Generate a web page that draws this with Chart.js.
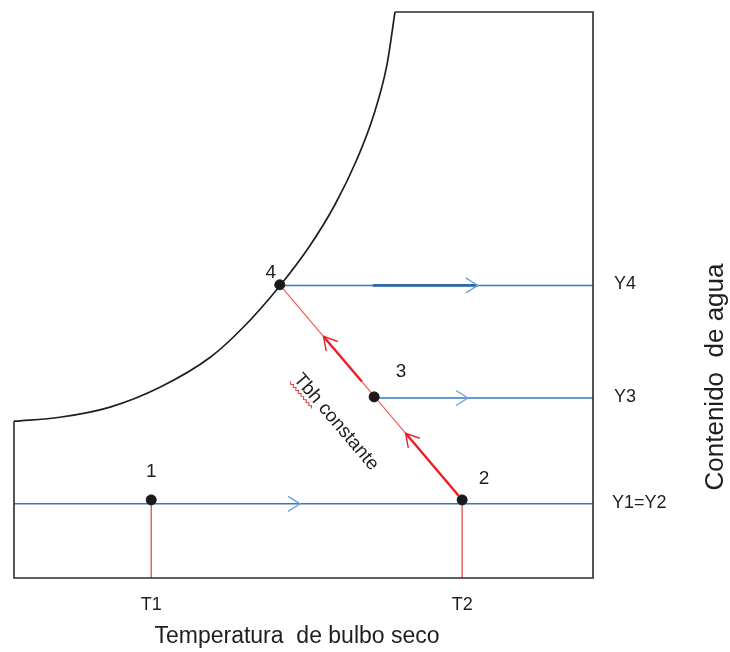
<!DOCTYPE html>
<html>
<head>
<meta charset="utf-8">
<script src="https://cdn.jsdelivr.net/npm/chart.js@4/dist/chart.umd.min.js"></script>
<style>
  html, body { margin: 0; padding: 0; background: #ffffff; }
  #wrap { width: 730px; height: 652px; position: relative; }
</style>
</head>
<body>
<div id="wrap"><canvas id="c"></canvas></div>
<script>
// Saturation curve (dry-bulb temperature vs. water content), relative units 0-100
const satTemp = [0, 7.9, 16.6, 25.2, 33.9, 39.6, 45.9, 51.1, 55.4, 59.2, 62.0, 64.4, 65.8];
const satHum  = [27.7, 28.4, 30.2, 33.7, 39.0, 44.3, 51.6, 58.7, 65.9, 73.9, 81.4, 90.6, 100];

// Air states 1..4
const stateLabels = ['1', '2', '3', '4'];
const stateTemp   = [23.7, 77.4, 62.2, 45.9];
const stateHum    = [13.8, 13.8, 32.0, 51.8];

// Constant water-content lines
const humLabels = ['Y1=Y2', 'Y3', 'Y4'];
const humLevels = [13.1, 31.8, 51.7];

// Temperature marks on the bottom axis
const tempLabels = ['T1', 'T2'];
const tempMarks  = [23.7, 77.4];

const FONT = '"Liberation Sans", Arial, sans-serif';
const BLUE = '#2f78c2';
const BLUE_LIGHT = '#6fa3dc';
const RED_THIN = '#ff5050';
const RED_V = '#d64545';
const RED_BOLD = '#ee1c24';

const pts = (xs, ys) => xs.map((x, i) => ({ x: x, y: ys[i] }));

const lineDs = (data, color, width, extra) => Object.assign({
  type: 'line', data: data, borderColor: color, borderWidth: width,
  pointRadius: 0, fill: false, tension: 0, clip: false
}, extra || {});

const datasets = [
  // chart frame (right, bottom and the cut left/top edges)
  lineDs([{ x: satTemp[satTemp.length - 1], y: 100 }, { x: 100, y: 100 }, { x: 100, y: 0 },
          { x: 0, y: 0 }, { x: 0, y: satHum[0] }], '#2b2b2b', 1.6),
  // saturation curve
  lineDs(pts(satTemp, satHum), '#1f1f1f', 1.7, { cubicInterpolationMode: 'monotone' }),
  // constant water-content lines
  lineDs([{ x: 0, y: humLevels[0] }, { x: 100, y: humLevels[0] }], BLUE, 1.5),
  lineDs([{ x: stateTemp[2], y: humLevels[1] }, { x: 100, y: humLevels[1] }], BLUE, 1.5),
  lineDs([{ x: stateTemp[3], y: humLevels[2] }, { x: 100, y: humLevels[2] }], BLUE, 1.5),
  // temperature drop lines
  lineDs([{ x: tempMarks[0], y: 0 }, { x: stateTemp[0], y: stateHum[0] }], RED_V, 1.2),
  lineDs([{ x: tempMarks[1], y: 0 }, { x: stateTemp[1], y: stateHum[1] }], RED_V, 1.2),
  // constant wet-bulb line 2 -> 4
  lineDs([{ x: stateTemp[1], y: stateHum[1] }, { x: stateTemp[3], y: stateHum[3] }], RED_THIN, 1.1),
  // states
  {
    type: 'scatter', data: pts(stateTemp, stateHum), showLine: false,
    pointRadius: 5, pointHoverRadius: 5, pointBackgroundColor: '#1a1a1a',
    pointBorderColor: '#1a1a1a', clip: false, order: -1
  }
];

function chevron(ctx, tip, dir, color, L, W) {
  const n = { x: -dir.y, y: dir.x };
  ctx.save();
  ctx.strokeStyle = color;
  ctx.lineWidth = 1.4;
  ctx.lineJoin = 'miter';
  ctx.beginPath();
  ctx.moveTo(tip.x - L * dir.x + W * n.x, tip.y - L * dir.y + W * n.y);
  ctx.lineTo(tip.x, tip.y);
  ctx.lineTo(tip.x - L * dir.x - W * n.x, tip.y - L * dir.y - W * n.y);
  ctx.stroke();
  ctx.restore();
}

const processMarks = {
  id: 'processMarks',
  afterDatasetsDraw(chart) {
    const ctx = chart.ctx;
    const xs = chart.scales.x, ys = chart.scales.y;
    const P = (x, y) => ({ x: xs.getPixelForValue(x), y: ys.getPixelForValue(y) });

    // emphasised stretch on Y4 line
    const a = P(62.0, humLevels[2]), b = P(80.1, humLevels[2]);
    ctx.save();
    ctx.strokeStyle = '#2d68ad';
    ctx.lineWidth = 2.6;
    ctx.beginPath(); ctx.moveTo(a.x, a.y); ctx.lineTo(b.x, b.y); ctx.stroke();
    ctx.restore();

    // arrows along water-content lines
    const blueArrows = [[49.4, humLevels[0]], [78.4, humLevels[1]], [80.1, humLevels[2]]];
    blueArrows.forEach(([x, y]) => chevron(ctx, P(x, y), { x: 1, y: 0 }, BLUE_LIGHT, 12, 7.5));

    // wet-bulb process arrows (2 -> 4)
    const s2 = P(stateTemp[1], stateHum[1]), s4 = P(stateTemp[3], stateHum[3]);
    const dx = s4.x - s2.x, dy = s4.y - s2.y, len = Math.hypot(dx, dy);
    const u = { x: dx / len, y: dy / len };
    const at = f => ({ x: s2.x + dx * f, y: s2.y + dy * f });
    [[0.02, 0.31], [0.55, 0.76]].forEach(([f0, f1]) => {
      const p0 = at(f0), p1 = at(f1);
      ctx.save();
      ctx.strokeStyle = RED_BOLD;
      ctx.lineWidth = 2.4;
      ctx.beginPath(); ctx.moveTo(p0.x, p0.y); ctx.lineTo(p1.x, p1.y); ctx.stroke();
      ctx.restore();
      chevron(ctx, p1, u, RED_BOLD, 13, 7.5);
    });

    // texts
    ctx.save();
    ctx.fillStyle = '#1e1e1e';
    ctx.textAlign = 'center';
    ctx.textBaseline = 'middle';
    ctx.font = '19px ' + FONT;
    const stateOffsets = [[0, -28], [22, -21], [27, -25], [-9, -12]];
    stateLabels.forEach((t, i) => {
      const p = P(stateTemp[i], stateHum[i]);
      ctx.fillText(t, p.x + stateOffsets[i][0], p.y + stateOffsets[i][1]);
    });
    ctx.font = '18px ' + FONT;
    tempLabels.forEach((t, i) => {
      const p = P(tempMarks[i], 0);
      ctx.fillText(t, p.x, p.y + 27);
    });
    ctx.textAlign = 'left';
    humLabels.forEach((t, i) => {
      const p = P(100, humLevels[i]);
      ctx.fillText(t, p.x + (i === 0 ? 19 : 21), p.y - 1);
    });

    // axis titles
    ctx.textAlign = 'center';
    ctx.font = '23px ' + FONT;
    ctx.fillText('Temperatura  de bulbo seco', 297, 637);
    ctx.save();
    ctx.translate(716, 377);
    ctx.rotate(-Math.PI / 2);
    ctx.font = '26px ' + FONT;
    ctx.fillText('Contenido  de agua', 0, 0);
    ctx.restore();

    // label along the wet-bulb line
    const mid = at(0.5);
    const nrm = { x: u.y, y: -u.x };
    const ang = Math.atan2(-dy, -dx);
    ctx.save();
    ctx.translate(mid.x + 45 * (nrm.x < 0 ? nrm.x : -nrm.x), mid.y + 45 * (nrm.y > 0 ? nrm.y : -nrm.y));
    ctx.rotate(ang);
    ctx.font = '19px ' + FONT;
    ctx.textBaseline = 'alphabetic';
    const label = 'Tbh constante';
    const w = ctx.measureText(label).width;
    const wT = ctx.measureText('Tbh').width;
    ctx.textAlign = 'left';
    ctx.fillText(label, -w / 2, 6);
    // spell-check squiggle under the first word
    ctx.strokeStyle = '#e83030';
    ctx.lineWidth = 1;
    ctx.beginPath();
    let x = -w / 2, k = 0;
    ctx.moveTo(x, 9);
    while (x < -w / 2 + wT) { x += 2; k++; ctx.lineTo(x, k % 2 ? 11 : 9); }
    ctx.stroke();
    ctx.restore();
    ctx.restore();
  }
};

new Chart(document.getElementById('c'), {
  type: 'line',
  data: { datasets: datasets },
  options: {
    responsive: true,
    maintainAspectRatio: false,
    animation: false,
    events: [],
    layout: { padding: { left: 14, top: 12, right: 137, bottom: 74 } },
    plugins: { legend: { display: false }, tooltip: { enabled: false } },
    scales: {
      x: { type: 'linear', min: 0, max: 100, display: false },
      y: { type: 'linear', min: 0, max: 100, display: false }
    }
  },
  plugins: [processMarks]
});
</script>
</body>
</html>
